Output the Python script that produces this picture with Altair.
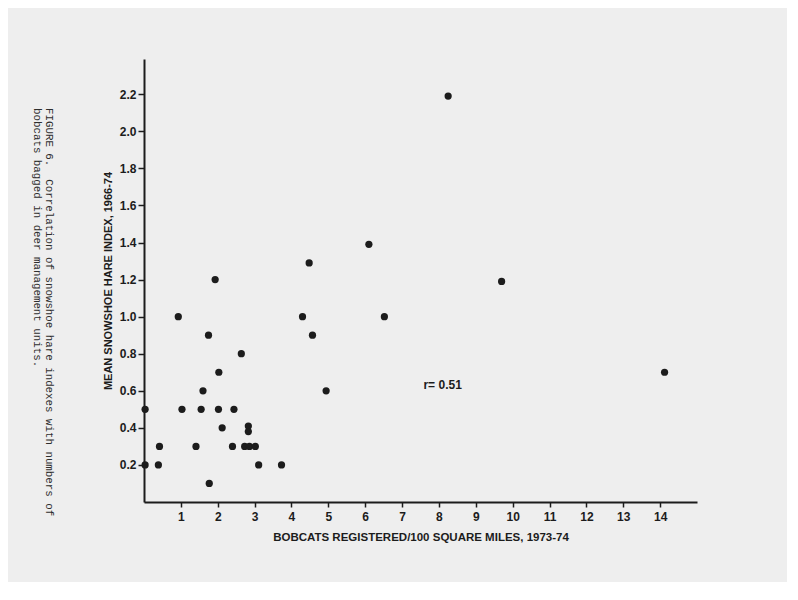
import altair as alt
import pandas as pd

# Bobcats registered / 100 sq mi (x) and mean snowshoe hare index (y)
bobcats = [0.93, 4.30, 1.75, 4.57, 2.64, 2.03, 1.60, 4.94, 0.03, 1.03,
           1.55, 2.02, 2.44, 2.12, 2.83, 2.83, 0.42, 1.41, 2.40, 2.73,
           2.86, 3.02, 0.39, 0.03, 3.11, 3.73, 1.77, 1.93, 4.48, 8.25,
           6.10, 9.70, 6.52, 14.12]
hare = [1.00, 1.00, 0.90, 0.90, 0.80, 0.70, 0.60, 0.60, 0.50, 0.50,
        0.50, 0.50, 0.50, 0.40, 0.41, 0.38, 0.30, 0.30, 0.30, 0.30,
        0.30, 0.30, 0.20, 0.20, 0.20, 0.20, 0.10, 1.20, 1.29, 2.19,
        1.39, 1.19, 1.00, 0.70]

x_ticks = list(range(1, 15))
y_ticks = [0.2, 0.4, 0.6, 0.8, 1.0, 1.2, 1.4, 1.6, 1.8, 2.0, 2.2]

x_title = "BOBCATS REGISTERED/100 SQUARE MILES, 1973-74"
y_title = "MEAN SNOWSHOE HARE INDEX, 1966-74"
r_label = ["r= 0.51"]
r_x = [7.58]
r_y = [0.63]
caption1 = "FIGURE 6.\u00a0 Correlation of snowshoe hare indexes with numbers of"
caption2 = "bobcats bagged in deer management units."

df = pd.DataFrame({"bobcats": bobcats, "hare": hare})
rdf = pd.DataFrame({"t": r_label, "x": r_x, "y": r_y})

INK = "#1c1c1c"
SANS = "Liberation Sans"
MONO = "Liberation Mono"

xscale = alt.Scale(domain=[0, 15], nice=False, zero=False)
yscale = alt.Scale(domain=[0, 2.39], nice=False, zero=False)

points = alt.Chart(df).mark_circle(size=52, color=INK, opacity=1, clip=False).encode(
    x=alt.X("bobcats:Q", scale=xscale,
            axis=alt.Axis(values=x_ticks, format="d", title=x_title,
                          tickSize=5, labelPadding=4, titlePadding=9,
                          labelFontSize=12, titleFontSize=11.5)),
    y=alt.Y("hare:Q", scale=yscale,
            axis=alt.Axis(values=y_ticks, format=".1f", title=y_title,
                          tickSize=6, labelPadding=2, titlePadding=6,
                          labelFontSize=12, titleFontSize=11)),
)

rtext = alt.Chart(rdf).mark_text(align="left", baseline="middle", font=SANS,
                                 fontSize=12, fontWeight="bold", color=INK).encode(
    x=alt.X("x:Q", scale=xscale),
    y=alt.Y("y:Q", scale=yscale),
    text="t:N",
)

cap_df = pd.DataFrame({"t": [caption1]})
cap_df2 = pd.DataFrame({"t": [caption2]})
cap1 = alt.Chart(cap_df).mark_text(angle=90, align="left", baseline="alphabetic",
                                   font=MONO, fontSize=10.8, color="#2e2e2e").encode(
    x=alt.value(-98), y=alt.value(49), text="t:N")
cap2 = alt.Chart(cap_df2).mark_text(angle=90, align="left", baseline="alphabetic",
                                    font=MONO, fontSize=10.8, color="#2e2e2e").encode(
    x=alt.value(-110), y=alt.value(49), text="t:N")

chart = alt.layer(points, rtext, cap1, cap2).properties(
    width=553, height=443,
    autosize=alt.AutoSizeParams(type="none"),
    padding={"left": 136, "top": 51, "right": 90, "bottom": 80},
    background="#eeeeee",
).configure_view(stroke="transparent").configure_axis(
    grid=False,
    domainColor=INK, domainWidth=2,
    tickColor=INK, tickWidth=1.5,
    labelColor=INK, titleColor=INK,
    labelFont=SANS, titleFont=SANS,
    labelFontWeight="bold", titleFontWeight="bold",
)

chart.save("out.html", embed_options={"renderer": "svg", "actions": False})
